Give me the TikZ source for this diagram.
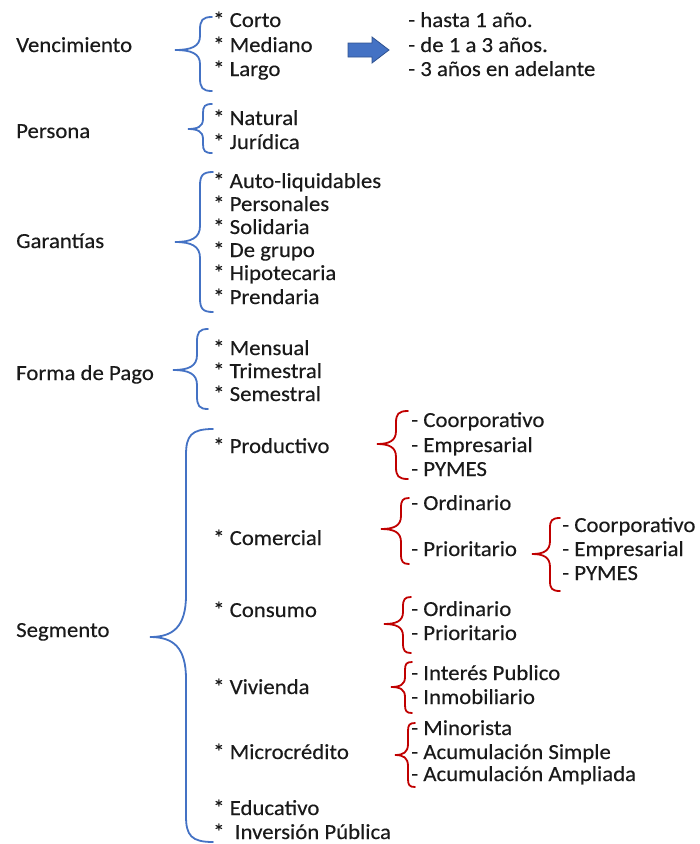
\documentclass[tikz,border=0pt]{standalone}
\usepackage{fontspec}
\setmainfont{Carlito}[FakeStretch=1.06, FakeBold=0.3]
\definecolor{bblue}{HTML}{4472C4}
\definecolor{bdark}{HTML}{2F528F}
\definecolor{rred}{HTML}{C00000}
\definecolor{txt}{HTML}{1A1A1A}
% #1 colour, #2 x tip, #3 x mid, #4 x end, #5 y top, #6 y tip, #7 y bottom, #8 end curl, #9 tip curl
\newcommand\mybrace[9]{%
  \draw[#1, line width=1.8pt, line cap=round]
    (#4,#5) .. controls (#3+0.2*#4-0.2*#3,#5) and (#3,#5+0.25*#8) .. (#3,#5+#8)
    -- (#3,#6-#9) .. controls (#3,#6-0.25*#9) and (#3-0.35*#3+0.35*#2,#6) .. (#2,#6)
    .. controls (#3-0.35*#3+0.35*#2,#6) and (#3,#6+0.25*#9) .. (#3,#6+#9)
    -- (#3,#7-#8) .. controls (#3,#7-0.25*#8) and (#3+0.2*#4-0.2*#3,#7) .. (#4,#7);}
\begin{document}
\begin{tikzpicture}[x=1pt,y=-1pt,
  lbl/.style={anchor=base west, inner sep=0pt, text=txt, font=\fontsize{21.5}{23}\selectfont}]
\useasboundingbox (0,0) rectangle (700,844);
% ---------- Vencimiento
\node[lbl] (venc) at (16,52) {Vencimiento};
\mybrace{bblue}{175}{200}{212}{17}{50}{91}{13}{14}
\node[lbl] (v1) at (213,27) {* Corto};
\node[lbl] (v2) at (213,52) {* Mediano};
\node[lbl] (v3) at (213,76) {* Largo};
\node[lbl] (w1) at (408,27) {- hasta 1 año.};
\node[lbl] (w2) at (408,52) {- de 1 a 3 años.};
\node[lbl] (w3) at (408,76) {- 3 años en adelante};
\draw[fill=bblue, draw=bdark, line width=0.8pt]
  (348,43) -- (372,43) -- (372,37) -- (389,50) -- (372,63) -- (372,57) -- (348,57) -- cycle;
% ---------- Persona
\node[lbl] (pers) at (16,138) {Persona};
\mybrace{bblue}{188}{203}{212}{104}{129}{153}{9}{10}
\node[lbl] (p1) at (213,125) {* Natural};
\node[lbl] (p2) at (213,149) {* Jurídica};
% ---------- Garantias
\node[lbl] (gar) at (16,248) {Garantías};
\mybrace{bblue}{175}{200}{213}{172}{242}{312}{14}{16}
\node[lbl] (g1) at (213,188) {* Auto-liquidables};
\node[lbl] (g2) at (213,211) {* Personales};
\node[lbl] (g3) at (213,234) {* Solidaria};
\node[lbl] (g4) at (213,257) {* De grupo};
\node[lbl] (g5) at (213,280) {* Hipotecaria};
\node[lbl] (g6) at (213,304) {* Prendaria};
% ---------- Forma de Pago
\node[lbl] (fp) at (16,380) {Forma de Pago};
\mybrace{bblue}{173}{197}{208}{329}{370}{409}{13}{15}
\node[lbl] (f1) at (213,355) {* Mensual};
\node[lbl] (f2) at (213,378) {* Trimestral};
\node[lbl] (f3) at (213,401) {* Semestral};
% ---------- Segmento
\node[lbl] (seg) at (16,637) {Segmento};
\mybrace{bblue}{150}{186}{213}{429}{637}{842}{26}{42}
\node[lbl] (s1) at (213,453) {* Productivo};
\node[lbl] (s2) at (213,545) {* Comercial};
\node[lbl] (s3) at (213,617) {* Consumo};
\node[lbl] (s4) at (213,694) {* Vivienda};
\node[lbl] (s5) at (213,759) {* Microcrédito};
\node[lbl] (s6) at (213,815) {* Educativo};
\node[lbl] (s7) at (213,839) {*\ \ Inversión Pública};
% Productivo
\mybrace{rred}{377}{396}{408}{411}{444}{479}{12}{13}
\node[lbl] (pr1) at (411,427) {- Coorporativo};
\node[lbl] (pr2) at (411,452) {- Empresarial};
\node[lbl] (pr3) at (411,476) {- PYMES};
% Comercial
\mybrace{rred}{381}{401}{409}{498}{529}{564}{10}{13}
\node[lbl] (c1) at (411,510) {- Ordinario};
\node[lbl] (c2) at (411,556) {- Prioritario};
\mybrace{rred}{532}{550}{560}{518}{554}{591}{10}{13}
\node[lbl] (cp1) at (562,532) {- Coorporativo};
\node[lbl] (cp2) at (562,556) {- Empresarial};
\node[lbl] (cp3) at (562,580) {- PYMES};
% Consumo
\mybrace{rred}{384}{403}{411}{597}{624}{653}{10}{12}
\node[lbl] (cn1) at (411,616) {- Ordinario};
\node[lbl] (cn2) at (411,640) {- Prioritario};
% Vivienda
\mybrace{rred}{391}{405}{412}{662}{687}{713}{8}{10}
\node[lbl] (vi1) at (411,680) {- Interés Publico};
\node[lbl] (vi2) at (411,704) {- Inmobiliario};
% Microcredito
\mybrace{rred}{395}{408}{415}{723}{755}{787}{8}{11}
\node[lbl] (m1) at (411,735) {- Minorista};
\node[lbl] (m2) at (411,759) {- Acumulación Simple};
\node[lbl] (m3) at (411,781) {- Acumulación Ampliada};
\end{tikzpicture}
\end{document}
